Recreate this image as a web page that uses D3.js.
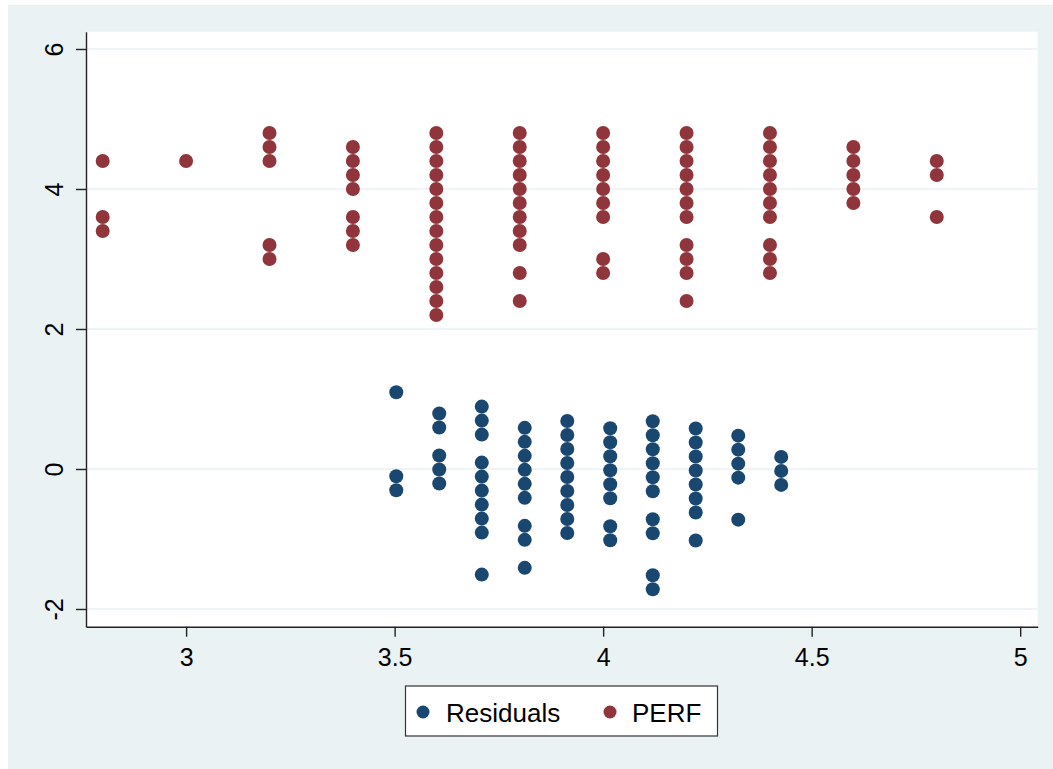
<!DOCTYPE html>
<meta charset="utf-8">
<style>
  body { margin: 0; background: #fff; font-family: Arial, "Liberation Sans", sans-serif; }
  .tick text { font-family: Arial, "Liberation Sans", sans-serif; }
</style>
<body>
<script src="https://d3js.org/d3.v7.min.js"></script>
<script>
  var w = 1053, h = 769;

  // PERF columns (x value and the PERF values stacked above it)
  var perfX = [2.8, 3.0, 3.2, 3.4, 3.6, 3.8, 4.0, 4.2, 4.4, 4.6, 4.8];
  var perfY = [
    [4.4, 3.6, 3.4],
    [4.4],
    [4.8, 4.6, 4.4, 3.2, 3.0],
    [4.6, 4.4, 4.2, 4.0, 3.6, 3.4, 3.2],
    [4.8, 4.6, 4.4, 4.2, 4.0, 3.8, 3.6, 3.4, 3.2, 3.0, 2.8, 2.6, 2.4, 2.2],
    [4.8, 4.6, 4.4, 4.2, 4.0, 3.8, 3.6, 3.4, 3.2, 2.8, 2.4],
    [4.8, 4.6, 4.4, 4.2, 4.0, 3.8, 3.6, 3.0, 2.8],
    [4.8, 4.6, 4.4, 4.2, 4.0, 3.8, 3.6, 3.2, 3.0, 2.8, 2.4],
    [4.8, 4.6, 4.4, 4.2, 4.0, 3.8, 3.6, 3.2, 3.0, 2.8],
    [4.6, 4.4, 4.2, 4.0, 3.8],
    [4.4, 4.2, 3.6]
  ];

  // Residual columns (fitted value on x)
  var residX = [3.504, 3.607, 3.709, 3.812, 3.914, 4.017, 4.119, 4.222, 4.324, 4.427];
  var residY = [
    [1.096, -0.104, -0.304],
    [0.793, 0.593, 0.193, -0.007, -0.207],
    [0.891, 0.691, 0.491, 0.091, -0.109, -0.309, -0.509, -0.709, -0.909, -1.509],
    [0.588, 0.388, 0.188, -0.012, -0.212, -0.412, -0.812, -1.012, -1.412],
    [0.686, 0.486, 0.286, 0.086, -0.114, -0.314, -0.514, -0.714, -0.914],
    [0.583, 0.383, 0.183, -0.017, -0.217, -0.417, -0.817, -1.017],
    [0.681, 0.481, 0.281, 0.081, -0.119, -0.319, -0.719, -0.919, -1.519, -1.719],
    [0.578, 0.378, 0.178, -0.022, -0.222, -0.422, -0.622, -1.022],
    [0.476, 0.276, 0.076, -0.124, -0.724],
    [0.173, -0.027, -0.227]
  ];

  var xTicks = [3, 3.5, 4, 4.5, 5];
  var yTicks = [-2, 0, 2, 4, 6];
  var seriesNames = ["Residuals", "PERF"];
  var colors = ["#1a476f", "#90353b"];

  function flatten(xs, ys) {
    var out = [];
    xs.forEach(function(x, i) {
      ys[i].forEach(function(y) { out.push({x: x, y: y}); });
    });
    return out;
  }
  var resid = flatten(residX, residY);
  var perf = flatten(perfX, perfY);

  var plotL = 86, plotR = 1037.7, plotT = 31.7, plotB = 626.7;

  var x = d3.scaleLinear().domain([2.76, 5.042]).range([plotL, plotR]);
  var y = d3.scaleLinear().domain([-2.253, 6.247]).range([plotB, plotT]);

  var svg = d3.select('body').append('svg')
    .attr('width', w)
    .attr('height', h);

  // graph region
  svg.append('rect')
    .attr('x', 8).attr('y', 5)
    .attr('width', w - 8).attr('height', h - 5)
    .attr('fill', '#eaf2f3');

  // plot region
  svg.append('rect')
    .attr('x', plotL).attr('y', plotT)
    .attr('width', plotR - plotL).attr('height', plotB - plotT)
    .attr('fill', '#fff');

  // gridlines
  svg.append('g').selectAll('line')
    .data(yTicks)
    .enter()
    .append('line')
    .attr('x1', plotL).attr('x2', plotR)
    .attr('y1', function(d) { return y(d); })
    .attr('y2', function(d) { return y(d); })
    .attr('stroke', '#eaf2f3')
    .attr('stroke-width', 1.6);

  // points
  svg.append('g').selectAll('circle')
    .data(resid)
    .enter()
    .append('circle')
    .attr('cx', function(d) { return x(d.x); })
    .attr('cy', function(d) { return y(d.y); })
    .attr('r', 7)
    .attr('fill', colors[0]);

  svg.append('g').selectAll('circle')
    .data(perf)
    .enter()
    .append('circle')
    .attr('cx', function(d) { return x(d.x); })
    .attr('cy', function(d) { return y(d.y); })
    .attr('r', 7)
    .attr('fill', colors[1]);

  // x axis
  var xAxis = svg.append('g')
    .attr('transform', 'translate(0,' + plotB + ')')
    .call(d3.axisBottom(x).tickValues(xTicks).tickSize(10).tickSizeOuter(0).tickPadding(12)
      .tickFormat(function(d) { return String(d); }));
  xAxis.select('.domain').attr('stroke', '#222').attr('stroke-width', 1.4);
  xAxis.selectAll('.tick line').attr('stroke', '#222').attr('stroke-width', 1.4);
  xAxis.selectAll('.tick text').attr('font-size', 25).attr('fill', '#000');

  // y axis
  var yAxis = svg.append('g')
    .attr('transform', 'translate(' + plotL + ',0)')
    .call(d3.axisLeft(y).tickValues(yTicks).tickSize(10).tickSizeOuter(0)
      .tickFormat(function(d) { return String(d); }));
  yAxis.select('.domain').attr('stroke', '#222').attr('stroke-width', 1.4);
  yAxis.selectAll('.tick line').attr('stroke', '#222').attr('stroke-width', 1.4);
  yAxis.selectAll('.tick text')
    .attr('font-size', 25).attr('fill', '#000')
    .attr('x', null).attr('dy', null)
    .attr('text-anchor', 'middle')
    .attr('transform', 'translate(-23,0) rotate(-90)');

  // legend
  var lg = svg.append('g');
  lg.append('rect')
    .attr('x', 405.5).attr('y', 686)
    .attr('width', 312).attr('height', 50)
    .attr('fill', '#fff')
    .attr('stroke', '#333')
    .attr('stroke-width', 1.2);
  var legX = [423, 610];
  var legTextX = [446, 632];
  seriesNames.forEach(function(name, i) {
    lg.append('circle')
      .attr('cx', legX[i]).attr('cy', 712)
      .attr('r', 6.5)
      .attr('fill', colors[i]);
    lg.append('text')
      .attr('x', legTextX[i]).attr('y', 722)
      .attr('font-size', 26)
      .attr('fill', '#000')
      .text(name);
  });
</script>
</body>
